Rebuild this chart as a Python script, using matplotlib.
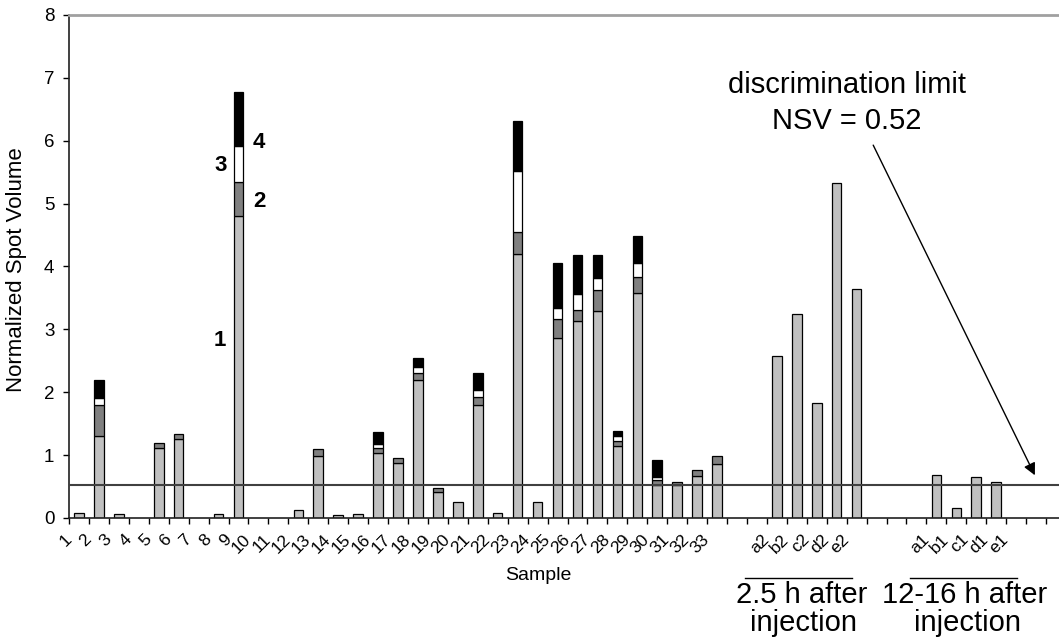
import numpy as np
import matplotlib
matplotlib.use('Agg')
import matplotlib.pyplot as plt
from matplotlib.lines import Line2D

plt.rcParams['font.family'] = ['Liberation Sans', 'DejaVu Sans']

# category labels (samples 1-33, then the two injection groups, blanks between)
labels = [str(i) for i in range(1, 34)] + ['', ''] + \
    ['a2', 'b2', 'c2', 'd2', 'e2'] + ['', '', ''] + \
    ['a1', 'b1', 'c1', 'd1', 'e1'] + ['', '']

# stacked spot volumes, one list per spot (1 = light grey, 2 = dark grey, 3 = white, 4 = black)
spot1 = [0.08, 1.31, 0.06, 0, 1.12, 1.25, 0, 0.06, 4.81, 0,
         0, 0.12, 0.98, 0.04, 0.06, 1.04, 0.87, 2.20, 0.42, 0.25,
         1.79, 0.08, 4.20, 0.26, 2.87, 3.13, 3.29, 1.14, 3.58, 0.53,
         0.53, 0.67, 0.86, 0, 0, 2.57, 3.24, 1.83, 5.33, 3.64,
         0, 0, 0, 0.69, 0.16, 0.66, 0.58, 0, 0, 0]
spot2 = [0, 0.49, 0, 0, 0.07, 0.09, 0, 0, 0.53, 0,
         0, 0, 0.11, 0, 0, 0.08, 0.08, 0.11, 0.05, 0,
         0.13, 0, 0.35, 0, 0.30, 0.18, 0.34, 0.09, 0.26, 0.08,
         0.05, 0.10, 0.13, 0, 0, 0, 0, 0, 0, 0,
         0, 0, 0, 0, 0, 0, 0, 0, 0, 0]
spot3 = [0, 0.11, 0, 0, 0, 0, 0, 0, 0.57, 0,
         0, 0, 0, 0, 0, 0.05, 0, 0.09, 0, 0,
         0.11, 0, 0.97, 0, 0.17, 0.26, 0.18, 0.07, 0.21, 0.04,
         0, 0, 0, 0, 0, 0, 0, 0, 0, 0,
         0, 0, 0, 0, 0, 0, 0, 0, 0, 0]
spot4 = [0, 0.29, 0, 0, 0, 0, 0, 0, 0.87, 0,
         0, 0, 0, 0, 0, 0.19, 0, 0.14, 0, 0,
         0.27, 0, 0.79, 0, 0.71, 0.62, 0.38, 0.09, 0.43, 0.28,
         0, 0, 0, 0, 0, 0, 0, 0, 0, 0,
         0, 0, 0, 0, 0, 0, 0, 0, 0, 0]

limit = 0.52

series = [spot1, spot2, spot3, spot4]
colors = ['#C0C0C0', '#808080', '#FFFFFF', '#000000']

fig = plt.figure(figsize=(10.59, 6.39), dpi=100)
W, H = 1059, 639
ax = fig.add_axes([69 / W, 121 / H, (1066 - 69) / W, (518 - 15) / H])

x = np.arange(1, len(labels) + 1)
bottom = np.zeros(len(labels))
for vals, col in zip(series, colors):
    v = np.array(vals, dtype=float)
    m = v > 0
    ax.bar(x[m], v[m], bottom=bottom[m], width=0.48, color=col,
           edgecolor='black', linewidth=0.9, zorder=2)
    bottom += v

ax.axhline(limit, color='#404040', lw=1.5, zorder=3)

ax.set_xlim(0.5, len(labels) + 0.5)
ax.set_ylim(0, 8)
ax.set_yticks(range(0, 9))
ax.tick_params(axis='y', labelsize=13.5, length=4.5, width=1, pad=6, direction='out')

# labels sit on the category boundaries, like the original
ax.set_xticks(x - 0.5)
ax.set_xticklabels(labels, rotation=45, ha='right', va='center',
                   rotation_mode='anchor', fontsize=12.5)
ax.tick_params(axis='x', length=4.5, width=1, pad=9, direction='out')

ax.spines['right'].set_visible(False)
ax.spines['top'].set_color('#A0A0A0')
ax.spines['top'].set_linewidth(2)
ax.spines['left'].set_color('#202020')
ax.spines['bottom'].set_color('#202020')
ax.spines['left'].set_linewidth(1.2)
ax.spines['bottom'].set_linewidth(1.2)

# spot numbers on the tallest bar
for t, px, py in [('1', 8.07, 2.83), ('2', 10.03, 5.04), ('3', 8.1, 5.6), ('4', 10.03, 5.97)]:
    ax.text(px, py, t, fontsize=16, fontweight='bold', ha='center', va='center')

ax.text(39.5, 6.76, 'discrimination limit', fontsize=21, ha='center', va='baseline')
ax.text(39.5, 6.19, 'NSV = 0.52', fontsize=21, ha='center', va='baseline')
ax.annotate('', xy=(49.0, 0.64), xytext=(40.77, 5.97),
            arrowprops=dict(arrowstyle='-|>', color='black', lw=1, mutation_scale=18))

fig.text(17 / W, 1 - 270 / H, 'Normalized Spot Volume', rotation=90,
         fontsize=16, ha='center', va='center')
fig.text(538 / W, 1 - 576 / H, 'Sample', fontsize=14, ha='center', va='center')

fig.text(802 / W, 1 - 603 / H, '2.5 h after', fontsize=21, ha='center', va='baseline')
fig.text(804 / W, 1 - 631 / H, 'injection', fontsize=21, ha='center', va='baseline')
fig.text(965 / W, 1 - 603 / H, '12-16 h after', fontsize=21, ha='center', va='baseline')
fig.text(968 / W, 1 - 631 / H, 'injection', fontsize=21, ha='center', va='baseline')
fig.add_artist(Line2D([745 / W, 852 / W], [1 - 578 / H, 1 - 578 / H], color='black', lw=1))
fig.add_artist(Line2D([910 / W, 1017 / W], [1 - 578 / H, 1 - 578 / H], color='black', lw=1))

fig.savefig('out.png', dpi=100)
